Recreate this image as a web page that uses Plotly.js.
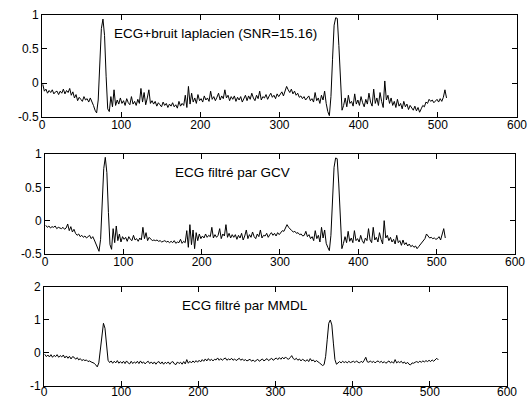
<!DOCTYPE html>
<html>
<head>
<meta charset="utf-8">
<script src="https://cdn.plot.ly/plotly-3.0.1.min.js"></script>
<style>html,body{margin:0;padding:0;background:#fff;}#chart{width:531px;height:401px;}</style>
</head>
<body>
<div id="chart"></div>
<script>
// Signals sampled every 2nd point (samples 1,3,...,511)
var noisy = [
-0.02,-0.12,-0.09,-0.15,-0.11,-0.14,-0.10,-0.16,-0.13,-0.12,
-0.17,-0.12,-0.15,-0.09,-0.16,-0.11,-0.14,-0.08,-0.18,-0.13,
-0.22,-0.17,-0.26,-0.21,-0.24,-0.27,-0.20,-0.25,-0.23,-0.28,
-0.22,-0.27,-0.33,-0.40,-0.44,-0.25,0.25,0.80,0.94,0.70,
0.10,-0.38,-0.42,-0.20,-0.35,-0.10,-0.33,-0.25,-0.31,-0.22,
-0.30,-0.26,-0.33,-0.23,-0.29,-0.32,-0.20,-0.31,-0.27,-0.33,
-0.24,-0.30,-0.08,-0.28,-0.14,-0.32,-0.22,-0.10,-0.30,-0.26,
-0.31,-0.27,-0.34,-0.29,-0.32,-0.35,-0.28,-0.33,-0.30,-0.36,
-0.31,-0.34,-0.29,-0.35,-0.32,-0.37,-0.27,-0.34,-0.30,-0.33,
-0.18,-0.36,-0.05,-0.31,-0.15,-0.28,-0.22,-0.30,-0.17,-0.26,
-0.23,-0.28,-0.19,-0.25,-0.22,-0.27,-0.12,-0.24,-0.20,-0.26,
-0.21,-0.15,-0.25,-0.19,-0.23,-0.10,-0.22,-0.18,-0.26,-0.20,
-0.24,-0.19,-0.27,-0.21,-0.25,-0.20,-0.28,-0.22,-0.18,-0.26,
-0.19,-0.24,-0.15,-0.22,-0.26,-0.18,-0.23,-0.12,-0.25,-0.20,
-0.22,-0.17,-0.24,-0.19,-0.15,-0.21,-0.18,-0.23,-0.16,-0.20,
-0.17,-0.13,-0.19,-0.12,-0.05,-0.10,-0.14,-0.09,-0.16,-0.12,
-0.18,-0.15,-0.21,-0.19,-0.23,-0.20,-0.25,-0.22,-0.19,-0.26,
-0.23,-0.28,-0.14,-0.26,-0.22,-0.30,-0.18,-0.25,-0.12,-0.30,
-0.42,-0.48,-0.20,0.35,0.85,0.96,0.95,0.55,-0.05,-0.40,
-0.33,-0.22,-0.35,-0.18,-0.30,-0.27,-0.34,-0.16,-0.31,-0.25,
-0.33,-0.20,-0.29,-0.35,-0.24,-0.31,-0.15,-0.28,-0.34,-0.09,
-0.30,-0.22,-0.33,-0.14,-0.27,-0.36,0.03,-0.25,-0.18,-0.30,
-0.22,-0.33,-0.27,-0.36,-0.24,-0.34,-0.30,-0.38,-0.27,-0.35,
-0.31,-0.39,-0.33,-0.37,-0.40,-0.34,-0.41,-0.36,-0.43,-0.38,
-0.33,-0.35,-0.28,-0.30,-0.24,-0.27,-0.25,-0.29,-0.26,-0.24,
-0.28,-0.23,-0.27,-0.21,-0.10,-0.22
];
var gcv = [
-0.07,-0.10,-0.08,-0.11,-0.09,-0.10,-0.08,-0.12,-0.10,-0.11,
-0.12,-0.10,-0.13,-0.11,-0.05,-0.15,-0.09,-0.17,-0.13,-0.19,
-0.22,-0.20,-0.24,-0.22,-0.25,-0.23,-0.26,-0.24,-0.22,-0.27,
-0.24,-0.29,-0.35,-0.42,-0.46,-0.28,0.20,0.78,0.95,0.72,
0.12,-0.36,-0.43,-0.12,-0.33,-0.08,-0.30,-0.20,-0.32,-0.24,
-0.28,-0.25,-0.31,-0.24,-0.28,-0.30,-0.22,-0.29,-0.27,-0.31,
-0.26,-0.29,-0.10,-0.27,-0.18,-0.30,-0.25,-0.28,-0.30,-0.29,
-0.30,-0.29,-0.31,-0.30,-0.32,-0.31,-0.30,-0.32,-0.31,-0.33,
-0.31,-0.33,-0.30,-0.34,-0.32,-0.33,-0.28,-0.34,-0.31,-0.33,
-0.15,-0.40,-0.06,-0.36,-0.14,-0.42,-0.18,-0.30,-0.20,-0.27,
-0.23,-0.26,-0.20,-0.25,-0.22,-0.24,-0.10,-0.26,-0.21,-0.25,
-0.22,-0.12,-0.27,-0.20,-0.23,-0.06,-0.25,-0.19,-0.26,-0.21,
-0.25,-0.21,-0.28,-0.22,-0.26,-0.19,-0.29,-0.23,-0.14,-0.27,
-0.21,-0.25,-0.17,-0.24,-0.27,-0.20,-0.24,-0.14,-0.26,-0.22,
-0.23,-0.19,-0.25,-0.21,-0.18,-0.22,-0.19,-0.23,-0.18,-0.21,
-0.18,-0.15,-0.16,-0.12,-0.06,-0.10,-0.13,-0.15,-0.17,-0.16,
-0.19,-0.18,-0.21,-0.20,-0.23,-0.22,-0.16,-0.24,-0.21,-0.27,
-0.24,-0.30,-0.15,-0.27,-0.22,-0.32,-0.10,-0.26,-0.14,-0.34,
-0.40,-0.45,-0.22,0.30,0.80,0.94,0.93,0.55,-0.05,-0.42,
-0.34,-0.24,-0.33,-0.16,-0.31,-0.26,-0.33,-0.15,-0.30,-0.27,
-0.32,-0.22,-0.30,-0.34,-0.26,-0.30,-0.12,-0.29,-0.33,-0.10,
-0.29,-0.25,-0.32,-0.18,-0.28,-0.35,0.00,-0.26,-0.22,-0.30,
-0.25,-0.32,-0.28,-0.35,-0.22,-0.33,-0.30,-0.37,-0.29,-0.36,
-0.33,-0.38,-0.35,-0.39,-0.37,-0.40,-0.38,-0.42,-0.39,-0.36,
-0.33,-0.30,-0.27,-0.20,-0.24,-0.26,-0.25,-0.27,-0.26,-0.28,
-0.27,-0.24,-0.29,-0.22,-0.12,-0.26
];
var mmdl = [
-0.04,-0.11,-0.06,-0.12,-0.05,-0.13,-0.07,-0.11,-0.05,-0.13,
-0.08,-0.12,-0.06,-0.15,-0.09,-0.16,-0.10,-0.18,-0.11,-0.13,
-0.19,-0.14,-0.21,-0.17,-0.23,-0.20,-0.23,-0.21,-0.26,-0.24,
-0.27,-0.28,-0.31,-0.36,-0.42,-0.30,0.10,0.62,0.90,0.75,
0.15,-0.22,-0.29,-0.24,-0.31,-0.25,-0.30,-0.23,-0.31,-0.26,
-0.31,-0.25,-0.32,-0.24,-0.30,-0.33,-0.25,-0.32,-0.27,-0.31,
-0.25,-0.32,-0.24,-0.31,-0.27,-0.33,-0.28,-0.25,-0.32,-0.27,
-0.33,-0.27,-0.34,-0.28,-0.26,-0.33,-0.27,-0.34,-0.28,-0.32,
-0.27,-0.34,-0.28,-0.26,-0.33,-0.35,-0.27,-0.32,-0.28,-0.34,
-0.26,-0.33,-0.20,-0.31,-0.25,-0.30,-0.24,-0.29,-0.23,-0.28,
-0.22,-0.27,-0.20,-0.25,-0.18,-0.24,-0.17,-0.23,-0.19,-0.24,
-0.19,-0.21,-0.15,-0.22,-0.17,-0.22,-0.18,-0.15,-0.22,-0.18,
-0.21,-0.16,-0.22,-0.18,-0.23,-0.19,-0.16,-0.22,-0.18,-0.23,
-0.20,-0.24,-0.21,-0.19,-0.25,-0.21,-0.26,-0.22,-0.19,-0.25,
-0.21,-0.18,-0.24,-0.20,-0.17,-0.23,-0.19,-0.16,-0.22,-0.18,
-0.15,-0.20,-0.14,-0.19,-0.13,-0.18,-0.12,-0.17,-0.19,-0.14,
-0.08,-0.17,-0.20,-0.16,-0.22,-0.18,-0.24,-0.19,-0.23,-0.25,
-0.20,-0.26,-0.17,-0.24,-0.21,-0.27,-0.23,-0.28,-0.30,-0.34,
-0.38,-0.35,-0.10,0.40,0.90,1.00,0.85,0.30,-0.20,-0.34,
-0.31,-0.26,-0.30,-0.25,-0.29,-0.26,-0.30,-0.25,-0.29,-0.26,
-0.25,-0.29,-0.24,-0.28,-0.30,-0.25,-0.29,-0.22,-0.13,-0.27,
-0.28,-0.24,-0.29,-0.25,-0.30,-0.26,-0.24,-0.29,-0.25,-0.30,
-0.26,-0.31,-0.27,-0.24,-0.30,-0.26,-0.31,-0.20,-0.30,-0.26,
-0.29,-0.25,-0.31,-0.27,-0.33,-0.28,-0.34,-0.36,-0.30,-0.31,
-0.28,-0.26,-0.29,-0.25,-0.28,-0.24,-0.27,-0.23,-0.26,-0.22,
-0.26,-0.21,-0.25,-0.20,-0.16,-0.21
];
var titles = ["ECG+bruit laplacien (SNR=15.16)", "ECG filtré par GCV", "ECG filtré par MMDL"];
var xTickVals = [0, 100, 200, 300, 400, 500, 600];
var xTickText = ["0", "100", "200", "300", "400", "500", "600"];
var yTickValsA = [-0.5, 0, 0.5, 1];
var yTickTextA = ["-0.5", "0", "0.5", "1"];
var yTickValsC = [-1, 0, 1, 2];
var yTickTextC = ["-1", "0", "1", "2"];

var sampleIdx = noisy.map(function (v, i) { return 1 + 2 * i; });

var font = {family: "Liberation Sans, Arial, sans-serif", size: 12, color: "#000"};
function xax(domain, anchor, standoff) {
  return {domain: domain, anchor: anchor, range: [0, 600], tickvals: xTickVals, ticktext: xTickText,
    ticks: "inside", ticklen: 5, tickcolor: "#000", showline: true, linecolor: "#000", linewidth: 1,
    mirror: "ticks", showgrid: false, zeroline: false, tickfont: font, fixedrange: true,
    ticklabelstandoff: standoff};
}
function yax(domain, anchor, range, tv, tt) {
  return {domain: domain, anchor: anchor, range: range, tickvals: tv, ticktext: tt,
    ticks: "inside", ticklen: 5, tickcolor: "#000", showline: true, linecolor: "#000", linewidth: 1,
    mirror: "ticks", showgrid: false, zeroline: false, tickfont: font, fixedrange: true};
}
var line = {color: "#000", width: 1};
var data = [
  {x: sampleIdx, y: noisy, type: "scatter", mode: "lines", line: line, xaxis: "x", yaxis: "y"},
  {x: sampleIdx, y: gcv, type: "scatter", mode: "lines", line: line, xaxis: "x2", yaxis: "y2"},
  {x: sampleIdx, y: mmdl, type: "scatter", mode: "lines", line: line, xaxis: "x3", yaxis: "y3"}
];
var annFont = {family: "Liberation Sans, Arial, sans-serif", size: 13.5, color: "#000"};
var layout = {
  width: 531, height: 401, showlegend: false,
  margin: {l: 0, r: 0, t: 0, b: 0},
  paper_bgcolor: "#fff", plot_bgcolor: "#fff",
  xaxis: xax([0.0791, 0.9736], "y", -3),
  yaxis: yax([0.7082, 0.9626], "x", [-0.5, 1], yTickValsA, yTickTextA),
  xaxis2: xax([0.0847, 0.9699], "y2", -3),
  yaxis2: yax([0.3666, 0.6160], "x2", [-0.5, 1], yTickValsA, yTickTextA),
  xaxis3: xax([0.0829, 0.9548], "y3", -5),
  yaxis3: yax([0.0374, 0.2843], "x3", [-1, 2], yTickValsC, yTickTextC),
  annotations: [
    {text: titles[0], xref: "x", yref: "y", x: 88, y: 0.735, xanchor: "left", yanchor: "middle", showarrow: false, font: annFont},
    {text: titles[1], xref: "x2", yref: "y2", x: 163, y: 0.715, xanchor: "left", yanchor: "middle", showarrow: false, font: annFont},
    {text: titles[2], xref: "x3", yref: "y3", x: 176, y: 1.45, xanchor: "left", yanchor: "middle", showarrow: false, font: annFont}
  ]
};
Plotly.newPlot("chart", data, layout, {staticPlot: true, displayModeBar: false});
</script>
</body>
</html>
